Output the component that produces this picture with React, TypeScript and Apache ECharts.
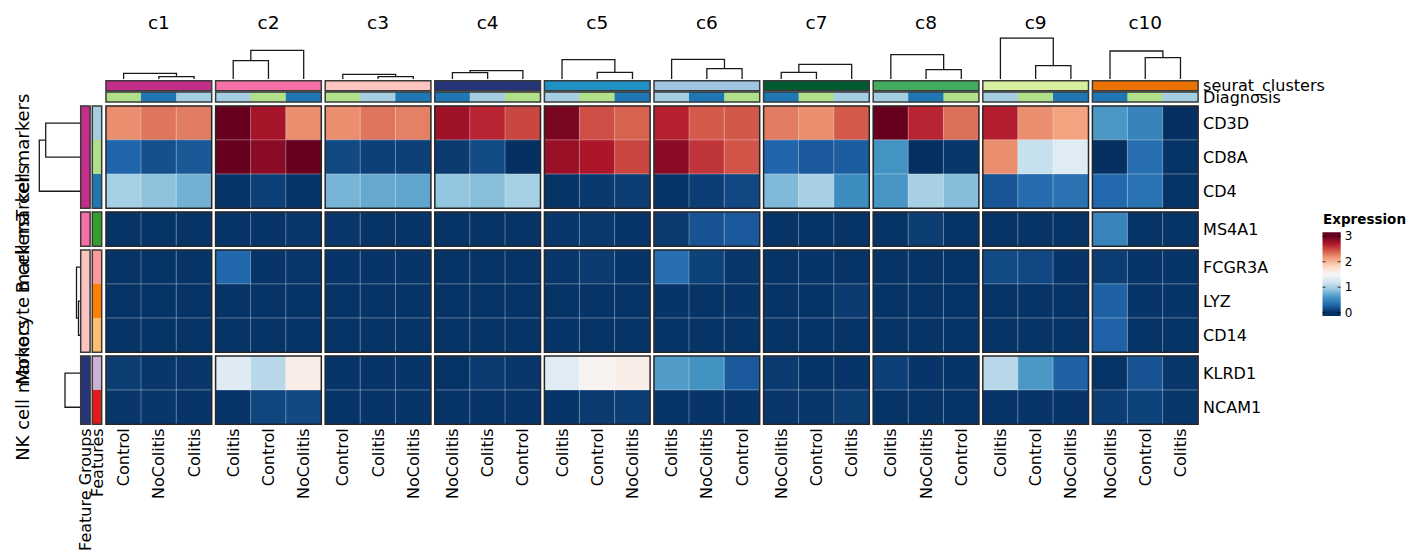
import React, { useEffect, useRef } from "react";
import * as echarts from "echarts";

const FONT = "DejaVu Sans";

// ---------------- data ----------------
const clusters = ["c1", "c2", "c3", "c4", "c5", "c6", "c7", "c8", "c9", "c10"];
const clusterColors = ["#c42e8a", "#f76fa6", "#fdc5c0", "#253478", "#1e91c2", "#a0c5e0", "#005a31", "#43ab5e", "#d9f0a0", "#ec7201"];
const diagnosisLevels = ["Control", "NoColitis", "Colitis"];
const diagnosisColors = ["#b2df8a", "#1f78b4", "#a6cee3"];
const columnDiagnosis = [
  ["Control", "NoColitis", "Colitis"],
  ["Colitis", "Control", "NoColitis"],
  ["Control", "Colitis", "NoColitis"],
  ["NoColitis", "Colitis", "Control"],
  ["Colitis", "Control", "NoColitis"],
  ["Colitis", "NoColitis", "Control"],
  ["NoColitis", "Control", "Colitis"],
  ["Colitis", "NoColitis", "Control"],
  ["Colitis", "Control", "NoColitis"],
  ["NoColitis", "Control", "Colitis"],
];
const featureGroups = ["T cell markers", "B cell markers", "Monocyte markers", "NK cell markers"];
const groupColors = ["#c42e8a", "#f76fa6", "#fdc5c0", "#253478"];
const features = ["CD3D", "CD8A", "CD4", "MS4A1", "FCGR3A", "LYZ", "CD14", "KLRD1", "NCAM1"];
const featureColors = ["#a6cee3", "#b2df8a", "#1f78b4", "#33a02c", "#fb9a99", "#ff7f00", "#fdbf6f", "#cab2d6", "#e31a1c"];
const featureGroupOf = [0, 0, 0, 1, 2, 2, 2, 3, 3];

// expression, 30 columns each (c1..c10, three diagnosis columns each, in displayed order)
const CD3D = [2.2, 2.31, 2.28, 3.0, 2.75, 2.2, 2.2, 2.31, 2.26, 2.77, 2.65, 2.51, 2.92, 2.47, 2.39, 2.67, 2.42, 2.43, 2.28, 2.2, 2.42, 3.0, 2.65, 2.33, 2.68, 2.2, 2.11, 0.63, 0.49, 0.0];
const CD8A = [0.3, 0.17, 0.22, 3.0, 2.86, 3.0, 0.14, 0.09, 0.09, 0.06, 0.15, 0.0, 2.8, 2.72, 2.51, 2.86, 2.58, 2.45, 0.3, 0.23, 0.25, 0.6, 0.0, 0.04, 2.2, 1.15, 1.32, 0.0, 0.36, 0.02];
const CD4 = [0.99, 0.89, 0.78, 0.02, 0.09, 0.02, 0.8, 0.73, 0.71, 0.9, 0.86, 0.99, 0.02, 0.05, 0.08, 0.03, 0.08, 0.13, 0.83, 1.0, 0.56, 0.62, 1.0, 0.85, 0.21, 0.34, 0.38, 0.32, 0.39, 0.02];
const MS4A1 = [0.02, 0.02, 0.02, 0.03, 0.03, 0.04, 0.04, 0.02, 0.03, 0.02, 0.02, 0.02, 0.04, 0.05, 0.03, 0.06, 0.2, 0.23, 0.02, 0.02, 0.02, 0.02, 0.07, 0.02, 0.02, 0.02, 0.02, 0.5, 0.02, 0.02];
const FCGR3A = [0.02, 0.02, 0.02, 0.31, 0.03, 0.04, 0.03, 0.03, 0.03, 0.02, 0.02, 0.02, 0.04, 0.06, 0.03, 0.36, 0.1, 0.04, 0.02, 0.03, 0.02, 0.02, 0.02, 0.02, 0.15, 0.13, 0.03, 0.08, 0.03, 0.03];
const LYZ = [0.02, 0.02, 0.02, 0.02, 0.02, 0.02, 0.02, 0.02, 0.02, 0.02, 0.02, 0.02, 0.02, 0.02, 0.02, 0.03, 0.02, 0.03, 0.02, 0.02, 0.06, 0.02, 0.02, 0.02, 0.02, 0.02, 0.02, 0.27, 0.03, 0.03];
const CD14 = [0.02, 0.02, 0.02, 0.02, 0.02, 0.03, 0.02, 0.02, 0.02, 0.02, 0.02, 0.02, 0.03, 0.02, 0.02, 0.03, 0.02, 0.02, 0.02, 0.03, 0.02, 0.02, 0.02, 0.02, 0.02, 0.02, 0.02, 0.28, 0.02, 0.02];
const KLRD1 = [0.07, 0.04, 0.04, 1.3, 1.08, 1.6, 0.03, 0.03, 0.03, 0.02, 0.06, 0.04, 1.32, 1.54, 1.6, 0.65, 0.59, 0.23, 0.06, 0.03, 0.03, 0.09, 0.03, 0.03, 1.08, 0.63, 0.27, 0.02, 0.2, 0.04];
const NCAM1 = [0.04, 0.04, 0.03, 0.03, 0.12, 0.14, 0.03, 0.03, 0.03, 0.03, 0.03, 0.03, 0.03, 0.06, 0.08, 0.03, 0.03, 0.03, 0.04, 0.04, 0.07, 0.02, 0.02, 0.02, 0.03, 0.03, 0.03, 0.08, 0.1, 0.04];
const expression = [CD3D, CD8A, CD4, MS4A1, FCGR3A, LYZ, CD14, KLRD1, NCAM1];

// dendrograms: [mergeHeight, left, right], leaves are local indices
type Node = number | [number, Node, Node];
const colDendrograms: Node[] = [
  [5.7, 0, [2.3, 1, 2]],
  [28.7, [18.3, 0, 1], 2],
  [4.7, 0, [2.3, 1, 2]],
  [8.3, [6.3, 0, 1], 2],
  [19.3, 0, [6.7, 1, 2]],
  [19.7, 0, [10.3, 1, 2]],
  [14.7, [6.7, 0, 1], 2],
  [24.3, 0, [9.3, 1, 2]],
  [41, 0, [13.3, 1, 2]],
  [28, 0, [21.3, 1, 2]],
];
const rowDendrograms: (Node | null)[] = [[40.7, [34.3, 0, 1], 2], null, [3.5, 0, [1.5, 1, 2]], [15, 0, 1]];

const legendTicks = [0, 1, 2, 3];
const rdbu = ["#053061", "#2166ac", "#4393c3", "#92c5de", "#d1e5f0", "#f7f7f7", "#fddbc7", "#f4a582", "#d6604d", "#b2182b", "#67001f"];

// ---------------- layout ----------------
const X0 = 106, PITCH = 109.6, GW = 105.7;
const Y0 = 106, RH = 34.1, RGAP = 3.8;
const SEURAT_TOP = 80.7, DIAG_TOP = 92, ANN_H = 10;
const FG_LEFT = 80.7, F_LEFT = 92.3, ANN_W = 9.4;
const CD_TOP = 38, CD_H = 41, CD_MAX = 41;
const RD_LEFT = 38, RD_W = 42;

function layoutNode(node: Node): { x: number; h: number; segs: number[][][] } {
  if (typeof node === "number") return { x: node + 0.5, h: 0, segs: [] };
  const [h, l, r] = node;
  const L = layoutNode(l);
  const R = layoutNode(r);
  return {
    x: (L.x + R.x) / 2,
    h,
    segs: [...L.segs, ...R.segs, [[L.x, L.h], [L.x, h], [R.x, h], [R.x, R.h]]],
  };
}

function buildOption() {
  const grid: any[] = [];
  const xAxis: any[] = [];
  const yAxis: any[] = [];
  const series: any[] = [];
  const exprSeries: number[] = [];
  const annSeries: number[] = [];

  const add = (rect: number[], xa: any, ya: any, extra: any = {}) => {
    const i = grid.length;
    grid.push({ left: rect[0], top: rect[1], width: rect[2], height: rect[3], containLabel: false, show: false, ...extra });
    xAxis.push({ gridIndex: i, ...xa });
    yAxis.push({ gridIndex: i, ...ya });
    return i;
  };
  const border = (color: string) => ({ show: true, borderColor: color, borderWidth: 1.5, backgroundColor: "transparent", z: 5 });
  const hiddenCat = (data: string[], inverse = false) => ({ type: "category", data, show: false, inverse });
  const labelX = (data: string[], show: boolean) => ({
    type: "category",
    data,
    axisLine: { show: false },
    axisTick: { show: false },
    splitLine: { show: false },
    axisLabel: { show, rotate: 90, margin: 4, interval: 0, fontSize: 16, color: "#000", fontFamily: FONT },
  });
  const labelY = (data: string[], show: boolean) => ({
    type: "category",
    data,
    inverse: true,
    position: "right",
    axisLine: { show: false },
    axisTick: { show: false },
    splitLine: { show: false },
    axisLabel: { show, margin: 5, interval: 0, fontSize: 16, color: "#000", fontFamily: FONT },
  });

  // row group geometry
  const groupFeatures: number[][] = featureGroups.map((_, r) => features.map((_, i) => i).filter((i) => featureGroupOf[i] === r));
  const rowTops: number[] = [];
  let t = Y0;
  groupFeatures.forEach((fs) => {
    rowTops.push(t);
    t += fs.length * RH + RGAP;
  });

  // heatmap blocks
  clusters.forEach((_, g) => {
    const left = X0 + g * PITCH;
    groupFeatures.forEach((fs, r) => {
      const i = add(
        [left, rowTops[r], GW, fs.length * RH],
        labelX(columnDiagnosis[g], r === groupFeatures.length - 1),
        labelY(fs.map((f) => features[f]), g === clusters.length - 1),
        border("#262626")
      );
      const data: number[][] = [];
      fs.forEach((f, k) => {
        for (let c = 0; c < 3; c++) data.push([c, k, expression[f][g * 3 + c]]);
      });
      exprSeries.push(series.length);
      series.push({
        type: "heatmap",
        xAxisIndex: i,
        yAxisIndex: i,
        data,
        silent: true,
        itemStyle: { borderColor: "rgba(255,255,255,0.32)", borderWidth: 1 },
        emphasis: { disabled: true },
      });
    });

    // seurat_clusters annotation
    const si = add([left, SEURAT_TOP, GW, ANN_H], hiddenCat(["x"]), labelY(["seurat_clusters"], g === clusters.length - 1), border("#3a3a3a"));
    annSeries.push(series.length);
    series.push({ type: "heatmap", xAxisIndex: si, yAxisIndex: si, data: [[0, 0, g]], silent: true, emphasis: { disabled: true } });

    // Diagnosis annotation
    const di = add([left, DIAG_TOP, GW, ANN_H], hiddenCat(columnDiagnosis[g]), labelY(["Diagnosis"], g === clusters.length - 1), border("#3a3a3a"));
    annSeries.push(series.length);
    series.push({
      type: "heatmap",
      xAxisIndex: di,
      yAxisIndex: di,
      data: columnDiagnosis[g].map((d, c) => [c, 0, 10 + diagnosisLevels.indexOf(d)]),
      silent: true,
      emphasis: { disabled: true },
    });

    // column dendrogram
    const ci = add(
      [left, CD_TOP, GW, CD_H],
      { type: "value", min: 0, max: 3, show: false },
      { type: "value", min: 0, max: CD_MAX, show: false }
    );
    series.push({
      type: "lines",
      coordinateSystem: "cartesian2d",
      xAxisIndex: ci,
      yAxisIndex: ci,
      polyline: true,
      silent: true,
      lineStyle: { color: "#1a1a1a", width: 1.3, opacity: 1 },
      data: layoutNode(colDendrograms[g]).segs.map((s) => ({ coords: s })),
    });
  });

  // left annotations and row dendrograms
  groupFeatures.forEach((fs, r) => {
    const last = r === groupFeatures.length - 1;
    const h = fs.length * RH;
    const fgi = add([FG_LEFT, rowTops[r], ANN_W, h], labelX(["Feature Groups"], last), hiddenCat([featureGroups[r]]), border("#3a3a3a"));
    annSeries.push(series.length);
    series.push({ type: "heatmap", xAxisIndex: fgi, yAxisIndex: fgi, data: [[0, 0, 30 + r]], silent: true, emphasis: { disabled: true } });

    const fi = add([F_LEFT, rowTops[r], ANN_W, h], labelX(["Features"], last), hiddenCat(fs.map((f) => features[f]), true), border("#3a3a3a"));
    annSeries.push(series.length);
    series.push({ type: "heatmap", xAxisIndex: fi, yAxisIndex: fi, data: fs.map((f, k) => [0, k, 20 + f]), silent: true, emphasis: { disabled: true } });

    const tree = rowDendrograms[r];
    if (tree !== null) {
      const ri = add(
        [RD_LEFT, rowTops[r], RD_W, h],
        { type: "value", min: 0, max: RD_W, inverse: true, show: false },
        { type: "value", min: 0, max: fs.length, inverse: true, show: false }
      );
      series.push({
        type: "lines",
        coordinateSystem: "cartesian2d",
        xAxisIndex: ri,
        yAxisIndex: ri,
        polyline: true,
        silent: true,
        lineStyle: { color: "#1a1a1a", width: 1.3, opacity: 1 },
        data: layoutNode(tree).segs.map((s) => ({ coords: s.map((p) => [p[1], p[0]]) })),
      });
    }
  });

  const pieces: any[] = [
    ...clusterColors.map((c, i) => ({ value: i, color: c })),
    ...diagnosisColors.map((c, i) => ({ value: 10 + i, color: c })),
    ...featureColors.map((c, i) => ({ value: 20 + i, color: c })),
    ...groupColors.map((c, i) => ({ value: 30 + i, color: c })),
  ];

  // graphics: titles, row group titles, legend
  const graphic: any[] = [];
  clusters.forEach((c, g) => {
    graphic.push({
      type: "text",
      x: X0 + g * PITCH + GW / 2,
      y: 22,
      silent: true,
      style: { text: c, fontSize: 18.5, fontFamily: FONT, fill: "#000", align: "center", verticalAlign: "middle" },
    });
  });
  featureGroups.forEach((name, r) => {
    graphic.push({
      type: "text",
      x: 22,
      y: rowTops[r] + (groupFeatures[r].length * RH) / 2,
      rotation: Math.PI / 2,
      silent: true,
      style: { text: name, fontSize: 18, fontFamily: FONT, fill: "#000", align: "center", verticalAlign: "middle" },
    });
  });

  const LX = 1322.5, LW = 18.2, BAR_TOP = 232.3, BAR_H = 83.7, V3Y = 236.3, V0Y = 312.7;
  const vMax = legendTicks[legendTicks.length - 1];
  const yOf = (v: number) => V3Y + ((vMax - v) / vMax) * (V0Y - V3Y);
  const stops: any[] = [{ offset: 0, color: rdbu[rdbu.length - 1] }];
  rdbu.forEach((col, i) => {
    const v = (i / (rdbu.length - 1)) * vMax;
    stops.push({ offset: (yOf(v) - BAR_TOP) / BAR_H, color: col });
  });
  stops.sort((a, b) => a.offset - b.offset);
  stops.push({ offset: 1, color: rdbu[0] });
  graphic.push({
    type: "text",
    x: 1323,
    y: 219,
    silent: true,
    style: { text: "Expression", fontSize: 13.5, fontWeight: "bold", fontFamily: FONT, fill: "#000", align: "left", verticalAlign: "middle" },
  });
  graphic.push({
    type: "rect",
    silent: true,
    shape: { x: LX, y: BAR_TOP, width: LW, height: BAR_H },
    style: { fill: { type: "linear", x: 0, y: 0, x2: 0, y2: 1, colorStops: stops } },
  });
  legendTicks.forEach((v) => {
    const y = yOf(v);
    graphic.push({ type: "line", silent: true, shape: { x1: LX, y1: y, x2: LX + 3, y2: y }, style: { stroke: "rgba(0,0,0,0.75)", lineWidth: 1 } });
    graphic.push({ type: "line", silent: true, shape: { x1: LX + LW - 3, y1: y, x2: LX + LW, y2: y }, style: { stroke: "rgba(0,0,0,0.75)", lineWidth: 1 } });
    graphic.push({
      type: "text",
      x: LX + LW + 4,
      y,
      silent: true,
      style: { text: String(v), fontSize: 12, fontFamily: FONT, fill: "#000", align: "left", verticalAlign: "middle" },
    });
  });

  return {
    animation: false,
    backgroundColor: "#ffffff",
    textStyle: { fontFamily: FONT },
    grid,
    xAxis,
    yAxis,
    visualMap: [
      { type: "continuous", show: false, min: 0, max: 3, dimension: 2, seriesIndex: exprSeries, inRange: { color: rdbu } },
      { type: "piecewise", show: false, dimension: 2, seriesIndex: annSeries, pieces },
    ],
    series,
    graphic,
  };
}

export default function App() {
  const ref = useRef<HTMLDivElement>(null);
  useEffect(() => {
    if (!ref.current) return;
    const chart = echarts.init(ref.current, null, { renderer: "svg" });
    chart.setOption(buildOption() as any);
    return () => chart.dispose();
  }, []);
  return <div ref={ref} style={{ position: "absolute", left: 0, top: 0, width: 1413, height: 560 }} />;
}
